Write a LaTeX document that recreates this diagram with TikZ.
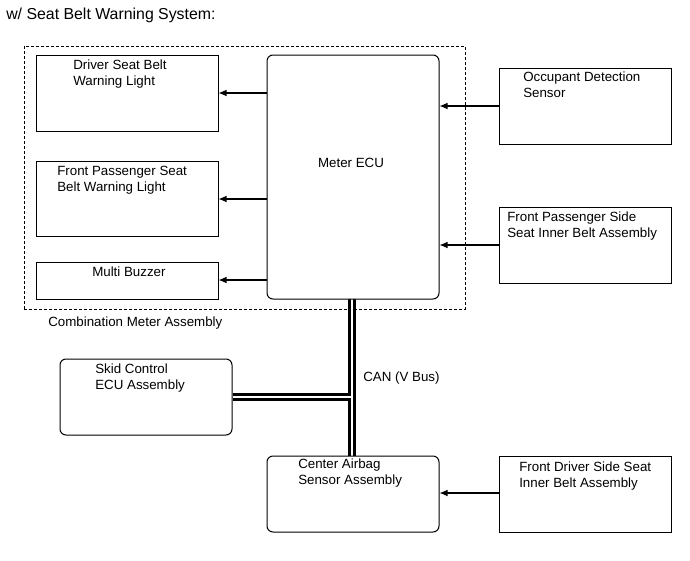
\documentclass[tikz,border=0pt]{standalone}
\usepackage{fontspec}
\setmainfont{Liberation Sans}
\usetikzlibrary{fit,arrows.meta,backgrounds}
\begin{document}
\begin{tikzpicture}[x=0.75pt,y=-0.75pt,
  every node/.style={font=\fontsize{10}{12}\selectfont},
  box/.style={draw,line width=0.75pt,fill=white,inner sep=0pt},
  rbox/.style={box,rounded corners=4.5pt},
  lbl/.style={anchor=north west,inner sep=0pt,align=left},
  frame/.style={draw,line width=0.75pt,dash pattern=on 2.25pt off 1.5pt,inner sep=0pt},
  arr/.style={line width=0.8pt,-{Latex[length=6pt,width=5pt]}},
  busblack/.style={line width=6.5pt,black},
  buswhite/.style={line width=2pt,white}]
\useasboundingbox (0,0) rectangle (690,561);

\node[lbl,font=\fontsize{11.9}{14}\selectfont] (title) at (6,8) {w/ Seat Belt Warning System:};

% boxes
\node[box,fit={(36,55) (218,131)}] (drv) {};
\node[box,fit={(36,161) (218,236)}] (fps) {};
\node[box,fit={(36,262) (218,299)}] (buz) {};
\node[rbox,fit={(267,55) (439,299)}] (meter) {};
\node[box,fit={(499,68) (671,144)}] (occ) {};
\node[box,fit={(499,207) (671,283)}] (fpsi) {};
\node[rbox,fit={(60,359) (232,435)}] (skid) {};
\node[rbox,fit={(267,456) (439,532)}] (airbag) {};
\node[box,fit={(499,456) (671,532)}] (fdsi) {};

% labels
\node[lbl] (tdrv) at (73,60) {Driver Seat Belt\\Warning Light};
\node[lbl] (tfps) at (57,166) {Front Passenger Seat\\Belt Warning Light};
\node[lbl] (tbuz) at (92,267) {Multi Buzzer};
\node[anchor=north,inner sep=0pt] (tmeter) at (351,158) {Meter ECU};
\node[lbl] (tocc) at (523,72) {Occupant Detection\\Sensor};
\node[lbl] (tfpsi) at (507,212) {Front Passenger Side\\Seat Inner Belt Assembly};
\node[lbl] (tcomb) at (48,317) {Combination Meter Assembly};
\node[lbl] (tcan) at (363,372) {CAN (V Bus)};
\node[lbl] (tskid) at (95,364) {Skid Control\\ECU Assembly};
\node[lbl] (tair) at (298,459) {Center Airbag\\Sensor Assembly};
\node[lbl] (tfdsi) at (519,462) {Front Driver Side Seat\\Inner Belt Assembly};

% arrows
\draw[arr] (meter.west |- 0,93) -- (drv.east |- 0,93);
\draw[arr] (meter.west |- 0,199) -- (fps.east |- 0,199);
\draw[arr] (meter.west |- 0,280) -- (buz.east |- 0,280);
\draw[arr] (occ.west |- 0,106) -- (meter.east |- 0,106);
\draw[arr] (fpsi.west |- 0,245) -- (meter.east |- 0,245);
\draw[arr] (fdsi.west |- 0,493) -- (airbag.east |- 0,493);

\begin{pgfonlayer}{background}
\node[frame,fit={(24,46) (465,309)}] (comb) {};
\coordinate (bt) at (352,299);
\coordinate (bb) at (352,456);
\coordinate (j) at (352,397);
\draw[busblack] (bt) -- (bb);
\draw[busblack] (skid.east |- j) -- (j);
\draw[buswhite] (bt) -- (bb);
\draw[buswhite] (skid.east |- j) -- (j);
\end{pgfonlayer}
\end{tikzpicture}
\end{document}
